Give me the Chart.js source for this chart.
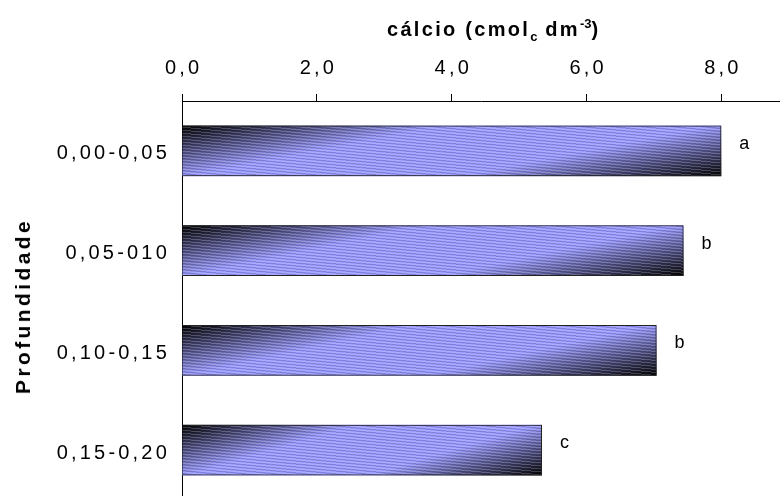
<!DOCTYPE html>
<html lang="pt">
<head>
<meta charset="UTF-8" />
<title>Cálcio por profundidade</title>
<script src="https://cdn.jsdelivr.net/npm/chart.js"></script>
<style>
  html, body { margin: 0; padding: 0; overflow: hidden; background: #fff; }
  #wrap { position: relative; width: 780px; height: 500px; }
  .ttl { position: absolute; font-family: "Liberation Sans", Arial, sans-serif; font-weight: bold; color: #000; white-space: nowrap; line-height: 20px; }
  .ttl sub, .ttl sup { font-size: 13px; line-height: 0; letter-spacing: 0; }
  #xTitle { left: 387px; top: 19px; font-size: 20px; letter-spacing: 2.3px; }
  #yTitle { left: 23px; top: 306px; font-size: 21px; letter-spacing: 3.4px; transform: translate(-50%, -50%) rotate(-90deg); }
</style>
</head>
<body>
<div id="wrap">
  <canvas id="calcioChart" width="780" height="500"></canvas>
  <div id="xTitle" class="ttl">cálcio (cmol<sub>c</sub> dm<sup>-3</sup>)</div>
  <div id="yTitle" class="ttl">Profundidade</div>
</div>

<script>
  // dados
  const categories = ['0,00-0,05', '0,05-010', '0,10-0,15', '0,15-0,20'];
  const calcio = [8.0, 7.44, 7.04, 5.34];
  const letras = ['a', 'b', 'b', 'c'];
  const xTicks = [0, 2, 4, 6, 8];

  const FONT = '"Liberation Sans", Arial, sans-serif';
  const BAR_PCT = 0.51;

  // gradiente escuro nos cantos, claro no meio (estilo Excel)
  function barGradient(context) {
    const chart = context.chart;
    const xs = chart.scales.x, ys = chart.scales.y;
    if (!xs || !ys || context.dataIndex === undefined) return '#9999ff';
    const i = context.dataIndex;
    const left = xs.getPixelForValue(0);
    const right = xs.getPixelForValue(calcio[i]);
    const band = Math.abs(ys.getPixelForValue(1) - ys.getPixelForValue(0));
    const h = band * BAR_PCT;
    const top = ys.getPixelForValue(i) - h / 2;
    const w = right - left;
    if (![left, right, top, h].every(Number.isFinite) || w < 1 || h < 1) return '#9999ff';
    const gx = 0.68 / w, gy = 0.32 / h;
    const n = gx * gx + gy * gy;
    const g = chart.ctx.createLinearGradient(left, top, left + gx / n, top + gy / n);
    g.addColorStop(0, '#000000');
    g.addColorStop(0.33, '#9999ff');
    g.addColorStop(0.67, '#9999ff');
    g.addColorStop(1, '#000000');
    return g;
  }

  // listras finas diagonais por cima
  function stripePattern() {
    const W = 30, H = 3;
    const c = document.createElement('canvas');
    c.width = W; c.height = H;
    const g = c.getContext('2d');
    const img = g.createImageData(W, H);
    for (let y = 0; y < H; y++) {
      for (let x = 0; x < W; x++) {
        const d = ((y - x * H / W) % H + H) % H;
        const k = (y * W + x) * 4;
        if (d < 1) {
          img.data[k] = 255; img.data[k + 1] = 255; img.data[k + 2] = 255; img.data[k + 3] = 50;
        } else if (d >= 1.5 && d < 2.5) {
          img.data[k + 3] = 40;
        }
      }
    }
    g.putImageData(img, 0, 0);
    return g.createPattern(c, 'repeat');
  }

  const spacingPlugin = {
    id: 'spacing',
    beforeDraw(chart) { chart.ctx.letterSpacing = '3.2px'; },
    afterDraw(chart) { chart.ctx.letterSpacing = '0px'; }
  };

  const letterPlugin = {
    id: 'letras',
    afterDatasetsDraw(chart) {
      const meta = chart.getDatasetMeta(0);
      const ctx = chart.ctx;
      ctx.save();
      ctx.font = '18px ' + FONT;
      ctx.fillStyle = '#000';
      ctx.textAlign = 'left';
      ctx.textBaseline = 'middle';
      meta.data.forEach((bar, i) => ctx.fillText(letras[i], bar.x + 18, bar.y - 7));
      ctx.restore();
    }
  };

  const ctx = document.getElementById('calcioChart').getContext('2d');

  new Chart(ctx, {
    type: 'bar',
    data: {
      labels: categories,
      datasets: [{
        label: 'cálcio',
        data: calcio,
        backgroundColor: stripePattern(),
        borderColor: '#222',
        borderWidth: 1,
        borderSkipped: 'start'
      }, {
        label: 'cálcio (fundo)',
        data: calcio,
        backgroundColor: barGradient,
        borderWidth: 0
      }]
    },
    options: {
      indexAxis: 'y',
      responsive: false,
      animation: false,
      grouped: false,
      categoryPercentage: 1,
      barPercentage: BAR_PCT,
      layout: { padding: 0 },
      plugins: {
        legend: { display: false },
        tooltip: { enabled: false }
      },
      scales: {
        x: {
          position: 'top',
          min: 0,
          max: 8.87,
          afterBuildTicks: s => { s.ticks = xTicks.map(v => ({ value: v })); },
          afterFit: s => { s.height = 101; s.paddingLeft = 0; s.paddingRight = 0; },
          grid: { drawOnChartArea: false, drawTicks: true, tickLength: 7, color: '#000', lineWidth: 1 },
          border: { display: true, color: '#000', width: 1 },
          ticks: {
            color: '#000',
            padding: 14,
            labelOffset: 1.6,
            font: { family: FONT, size: 20 },
            callback: v => v.toFixed(1).replace('.', ',')
          }
        },
        y: {
          afterFit: s => { s.width = 182; s.paddingTop = 0; s.paddingBottom = 0; },
          grid: { drawOnChartArea: false, drawTicks: false },
          border: { display: true, color: '#000', width: 1 },
          ticks: {
            color: '#000',
            padding: 12,
            labelOffset: 3,
            font: { family: FONT, size: 20 }
          }
        }
      }
    },
    plugins: [spacingPlugin, letterPlugin]
  });
</script>
</body>
</html>
